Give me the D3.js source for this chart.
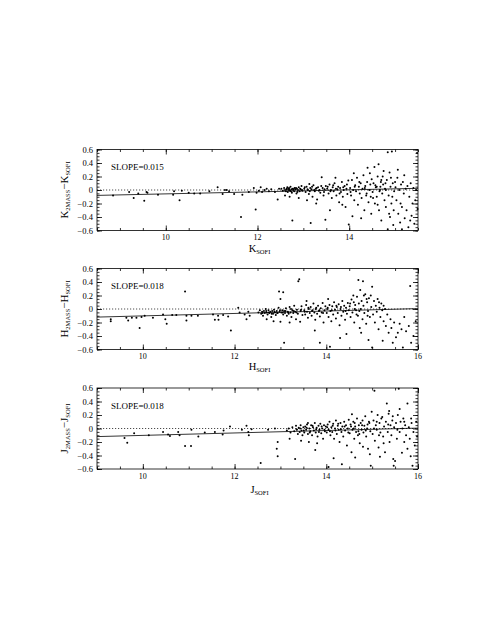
<!DOCTYPE html>
<html><head><meta charset="utf-8">
<script src="https://cdn.jsdelivr.net/npm/d3@7"></script>
<style>body{margin:0;background:#fff}svg{display:block}</style>
</head><body>
<svg id="c" width="491" height="635"></svg>
<script>
// ---------- data ----------
const bands = ["K", "H", "J"];
const slopes = [0.015, 0.018, 0.018];
const fitLeft = [-0.08, -0.12, -0.12];          // fit value at left edge of x range
const xDomains = [[8.5, 15.5], [9, 16], [9, 16]];
const xMajorTicks = [[10, 12, 14], [10, 12, 14, 16], [10, 12, 14, 16]];
const yTicks = [0.6, 0.4, 0.2, 0, -0.2, -0.4, -0.6];

const kPoints = [
[8.85,-0.08],[9.2,-0.03],[9.3,-0.12],[9.4,-0.05],[9.53,-0.16],[9.58,-0.03],[9.6,-0.04],[9.83,-0.07],
[10.16,-0.07],[10.18,-0.02],[10.3,-0.15],[10.35,-0.01],[10.5,-0.04],[10.62,-0.05],[10.75,-0.05],[10.95,-0.02],
[11.13,0.04],[11.24,-0.06],[11.29,0.0],[11.33,0.0],[11.38,-0.02],[11.49,-0.06],[11.64,-0.40],[11.67,-0.07],
[11.81,-0.03],[11.92,0.03],[11.96,-0.29],[11.98,-0.04],[12.03,-0.01],[12.07,0.04],[12.1,-0.03],[12.2,0.02],
[12.15,0.0],[12.25,-0.02],[12.3,0.01],[12.38,-0.03],[12.44,-0.14],[12.47,0.02],
[12.52,0.02],[12.55,-0.01],[12.58,0.03],[12.6,0.0],[12.62,-0.02],[12.63,0.01],[12.65,0.04],[12.66,-0.03],[12.68,0.02],[12.7,0.0],[12.71,-0.01],[12.72,0.05],[12.74,0.01],[12.75,-0.04],[12.77,0.02],[12.78,0.0],[12.8,-0.02],[12.81,0.03],[12.83,0.01],[12.85,-0.05],[12.86,0.02],[12.88,0.0],[12.9,0.04],[12.92,-0.02],[12.94,0.01],[12.96,0.06],[12.98,-0.01],[12.6,-0.08],[12.7,-0.1],[12.76,-0.45],[12.9,-0.12],
[13.02,0.02],[13.05,-0.03],[13.07,0.05],[13.1,0.0],[13.12,-0.06],[13.15,0.03],[13.16,-0.49],[13.18,0.01],[13.2,-0.1],[13.22,0.07],[13.25,-0.02],[13.27,0.02],[13.3,-0.14],[13.32,0.04],[13.35,0.0],[13.37,-0.04],[13.4,0.19],[13.42,0.03],[13.44,-0.08],[13.46,0.01],[13.48,-0.44],[13.49,0.06],[13.08,-0.15],[13.28,-0.2],[13.13,0.09],
[13.52,0.02],[13.55,-0.05],[13.57,0.08],[13.6,0.0],[13.62,-0.12],[13.64,0.04],[13.66,-0.02],[13.68,0.1],[13.7,0.18],[13.72,-0.08],[13.74,0.01],[13.76,0.05],[13.78,-0.18],[13.8,0.03],[13.82,-0.03],[13.84,0.12],[13.86,-0.1],[13.88,0.0],[13.9,0.06],[13.92,-0.25],[13.94,0.02],[13.96,-0.06],[13.98,0.14],[13.99,-0.51],[13.58,-0.3],[13.85,-0.22],
[14.02,0.03],[14.04,-0.08],[14.06,0.15],[14.07,-0.39],[14.09,0.0],[14.11,-0.15],[14.13,0.07],[14.15,-0.02],[14.17,0.18],[14.19,-0.22],[14.21,0.05],[14.23,-0.05],[14.25,0.1],[14.27,-0.12],[14.29,0.02],[14.31,0.22],[14.33,-0.3],[14.35,0.06],[14.37,-0.08],[14.39,0.12],[14.4,0.33],[14.42,-0.18],[14.44,0.0],[14.46,0.08],[14.48,-0.35],[14.49,0.16],[14.1,0.25],[14.26,-0.42],[14.38,-0.05],[14.45,0.25],
[14.51,-0.03],[14.53,0.1],[14.55,0.34],[14.56,-0.2],[14.58,0.04],[14.6,-0.1],[14.62,0.2],[14.64,0.38],[14.65,-0.3],[14.67,0.0],[14.69,0.12],[14.7,-0.45],[14.72,-0.05],[14.74,0.08],[14.75,0.28],[14.77,-0.15],[14.78,0.02],[14.8,-0.25],[14.82,0.15],[14.84,0.56],[14.84,-0.58],[14.86,-0.08],[14.88,0.26],[14.89,-0.4],[14.9,0.05],[14.92,-0.2],[14.93,0.57],[14.95,0.1],[14.96,-0.52],[14.98,-0.02],[14.52,-0.12],[14.6,0.05],[14.66,-0.02],[14.73,0.2],[14.8,0.0],[14.87,-0.35],[14.91,0.18],[14.97,-0.3],[14.62,-0.22],[14.7,0.15],
[15.01,0.04],[15.03,-0.15],[15.05,0.18],[15.07,-0.35],[15.09,0.0],[15.11,-0.48],[15.13,0.08],[15.15,-0.25],[15.17,0.12],[15.19,-0.05],[15.21,-0.42],[15.23,0.02],[15.25,-0.3],[15.27,0.06],[15.29,-0.55],[15.31,-0.1],[15.34,0.1],[15.36,-0.38],[15.38,-0.2],[15.4,0.03],[15.42,-0.5],[15.44,-0.15],[15.46,0.0],[15.48,0.55],[15.49,-0.28],[15.06,0.3],[15.2,0.22],[15.12,-0.2],[15.33,-0.45],[15.15,-0.58],
[12.64,0.02],[12.67,0.0],[12.69,0.03],[12.73,-0.02],[12.79,0.01],[12.84,0.03],[12.87,-0.03],[12.93,0.02],[12.97,0.0],[13.03,0.04],[13.09,0.01],[13.14,-0.02],[13.19,0.05],[13.24,0.0],[13.29,0.03],[13.34,-0.01],[13.39,0.06],[13.45,-0.03],[13.53,0.05],[13.59,-0.02],[13.65,0.07],[13.71,0.02],[13.79,-0.05],[13.87,0.04],[13.95,0.08],[14.03,-0.03],[14.12,0.05],[14.22,0.12],[14.34,0.03],[14.47,-0.1],[14.57,0.07],[14.68,0.05],[14.79,0.1],[14.94,-0.1],[15.0,0.12]
];

const hPoints = [
[9.3,-0.15],[9.3,-0.18],[9.64,-0.13],[9.68,-0.17],[9.76,-0.13],[9.86,-0.13],[9.93,-0.28],[9.97,-0.12],
[10.04,-0.1],[10.22,-0.13],[10.44,-0.08],[10.49,-0.15],[10.52,-0.22],[10.64,-0.09],[10.73,-0.09],[10.92,0.26],
[10.95,-0.1],[10.95,-0.17],[11.06,-0.1],[11.2,-0.1],[11.53,-0.08],[11.57,-0.16],[11.64,-0.1],[11.65,-0.16],
[11.75,-0.09],[11.86,-0.11],[11.92,-0.32],[12.08,0.02],[12.11,-0.05],[12.22,-0.08],[12.26,-0.15],[12.3,-0.04],[12.33,-0.1],
[12.52,-0.05],[12.55,-0.02],[12.58,-0.07],[12.6,-0.04],[12.62,-0.1],[12.64,-0.03],[12.66,-0.06],[12.68,0.0],[12.7,-0.05],[12.72,-0.08],[12.74,-0.02],[12.76,-0.06],[12.78,-0.04],[12.8,-0.12],[12.82,-0.03],[12.84,-0.07],[12.86,-0.01],[12.88,-0.05],[12.9,-0.09],[12.92,-0.03],[12.94,-0.06],[12.96,0.02],[12.98,-0.04],[12.7,-0.15],[12.85,-0.18],
[13.0,0.15],[12.97,0.26],[13.06,0.25],[13.02,-0.05],[13.04,-0.02],[13.06,-0.08],[13.08,-0.5],[13.08,-0.03],[13.1,-0.06],[13.12,0.01],[13.14,-0.1],[13.16,-0.04],[13.18,-0.07],[13.2,0.03],[13.22,-0.05],[13.24,-0.12],[13.26,-0.02],[13.28,-0.06],[13.3,0.05],[13.32,-0.04],[13.34,-0.15],[13.36,-0.01],[13.38,-0.07],[13.39,0.41],[13.41,0.44],[13.43,-0.19],[13.44,-0.03],[13.46,0.04],[13.48,-0.09],[13.0,-0.19],[13.2,-0.2],
[13.52,-0.02],[13.54,-0.08],[13.56,0.06],[13.57,0.12],[13.58,-0.04],[13.6,-0.13],[13.62,0.0],[13.64,-0.06],[13.66,0.03],[13.68,-0.1],[13.7,-0.02],[13.72,0.08],[13.74,-0.05],[13.75,-0.32],[13.76,-0.16],[13.78,0.02],[13.8,-0.07],[13.82,0.05],[13.84,-0.03],[13.86,-0.5],[13.86,-0.11],[13.88,0.01],[13.9,-0.05],[13.92,0.09],[13.94,-0.2],[13.96,-0.02],[13.98,0.04],
[14.01,-0.06],[14.03,0.02],[14.04,0.15],[14.05,-0.12],[14.07,0.06],[14.08,-0.56],[14.09,-0.03],[14.11,-0.18],[14.13,0.04],[14.15,-0.08],[14.17,0.1],[14.19,-0.01],[14.21,-0.14],[14.23,0.03],[14.25,-0.06],[14.27,0.07],[14.29,-0.24],[14.3,-0.43],[14.31,0.0],[14.33,-0.1],[14.35,0.12],[14.37,-0.04],[14.39,0.05],[14.41,-0.16],[14.43,0.02],[14.44,-0.37],[14.45,-0.07],[14.47,0.09],[14.49,-0.02],
[14.51,0.04],[14.53,-0.12],[14.55,0.14],[14.57,-0.05],[14.59,0.2],[14.61,-0.2],[14.63,0.06],[14.65,-0.02],[14.67,0.18],[14.7,0.43],[14.69,-0.1],[14.71,0.08],[14.73,-0.28],[14.74,0.28],[14.75,0.0],[14.77,0.12],[14.79,-0.15],[14.8,0.41],[14.81,0.05],[14.83,-0.06],[14.85,0.22],[14.87,-0.22],[14.89,0.1],[14.91,-0.03],[14.92,-0.46],[14.93,0.16],[14.95,-0.12],[14.97,0.2],[14.98,0.03],[15.0,0.33],[15.0,-0.57],[14.6,0.1],[14.76,-0.35],[14.88,0.15],[14.66,-0.08],
[15.02,-0.08],[15.04,0.12],[15.06,-0.2],[15.08,0.05],[15.1,-0.04],[15.12,0.15],[15.14,-0.3],[15.16,0.02],[15.18,-0.12],[15.2,0.08],[15.22,-0.02],[15.23,-0.47],[15.25,-0.18],[15.28,0.0],[15.3,-0.25],[15.33,-0.08],[15.36,-0.35],[15.4,-0.15],[15.45,-0.5],[15.42,-0.28],[15.48,-0.2],
[15.52,-0.42],[15.56,-0.35],[15.6,-0.22],[15.64,-0.3],[15.67,-0.57],[15.7,-0.12],[15.74,-0.33],[15.8,-0.25],[15.83,0.34],[15.85,-0.5],[15.9,-0.4],[15.95,-0.18],
[12.61,-0.06],[12.69,-0.03],[12.75,-0.05],[12.81,-0.07],[12.87,-0.04],[12.93,-0.06],[12.99,-0.02],[13.05,-0.05],[13.11,-0.03],[13.17,-0.05],[13.23,0.0],[13.29,-0.03],[13.35,-0.05],[13.45,-0.01],[13.53,-0.04],[13.61,0.02],[13.69,-0.03],[13.77,0.0],[13.85,-0.02],[13.93,-0.06],[14.02,0.0],[14.12,-0.02],[14.22,0.05],[14.32,0.03],[14.42,-0.03],[14.52,0.08],[14.62,0.0],[14.72,-0.03],[14.82,0.2],[14.9,-0.1],[15.15,0.1],[15.25,0.05]
];

const jPoints = [
[9.6,-0.14],[9.66,-0.21],[9.81,-0.07],[10.13,-0.1],[10.44,-0.05],[10.55,-0.09],[10.59,-0.11],[10.77,-0.05],
[10.8,-0.1],[10.92,-0.26],[11.05,-0.26],[11.06,-0.02],[11.21,-0.12],[11.35,-0.06],[11.57,-0.05],[11.76,-0.03],
[11.74,-0.09],[11.9,0.03],[12.16,-0.02],[12.26,0.04],[12.3,-0.05],[12.31,-0.1],[12.37,-0.01],[12.57,-0.51],
[12.73,-0.02],[12.88,0.0],[12.92,-0.3],[12.94,-0.2],[12.94,-0.41],
[13.14,-0.03],[13.18,0.0],[13.22,-0.06],[13.26,0.02],[13.3,-0.04],[13.32,-0.45],[13.34,0.04],[13.36,-0.02],[13.38,-0.08],[13.4,0.01],[13.42,-0.05],[13.44,0.05],[13.46,-0.03],[13.48,-0.1],[13.2,-0.15],[13.45,-0.18],
[13.5,0.02],[13.52,-0.06],[13.54,0.03],[13.56,-0.02],[13.58,0.06],[13.6,-0.08],[13.62,-0.2],[13.63,0.0],[13.65,-0.04],[13.67,0.05],[13.69,-0.1],[13.71,0.02],[13.73,-0.03],[13.75,0.08],[13.76,-0.32],[13.77,-0.06],[13.79,0.01],[13.81,-0.12],[13.83,0.04],[13.85,-0.02],[13.87,0.07],[13.89,-0.07],[13.91,0.0],[13.93,-0.15],[13.95,0.05],[13.97,-0.04],[13.99,0.03],[13.6,0.08],[13.8,-0.22],
[14.01,-0.06],[14.03,0.06],[14.05,-0.57],[14.05,-0.02],[14.07,0.1],[14.09,-0.1],[14.11,0.02],[14.13,-0.05],[14.15,0.07],[14.16,-0.44],[14.17,-0.15],[14.19,0.0],[14.21,0.12],[14.23,-0.08],[14.25,0.04],[14.27,-0.02],[14.29,-0.2],[14.31,0.08],[14.33,-0.05],[14.34,-0.53],[14.35,0.03],[14.37,-0.12],[14.39,0.1],[14.41,-0.03],[14.43,0.05],[14.45,-0.25],[14.47,0.0],[14.49,0.13],
[14.51,-0.07],[14.53,0.06],[14.55,-0.35],[14.56,0.21],[14.57,-0.02],[14.59,0.1],[14.61,-0.15],[14.63,-0.43],[14.63,0.03],[14.65,-0.05],[14.67,0.15],[14.69,-0.1],[14.71,0.05],[14.73,-0.22],[14.75,0.08],[14.77,-0.02],[14.79,0.12],[14.8,-0.27],[14.81,-0.06],[14.83,0.04],[14.85,0.18],[14.87,-0.12],[14.89,0.0],[14.91,-0.3],[14.93,0.1],[14.95,-0.38],[14.96,-0.04],[14.97,-0.55],[14.99,0.25],[14.6,0.0],[14.72,-0.08],[14.9,0.06],
[15.01,-0.08],[15.03,0.12],[15.05,0.56],[15.06,-0.18],[15.08,0.05],[15.1,-0.02],[15.12,0.2],[15.14,-0.28],[15.16,0.08],[15.17,-0.42],[15.18,-0.06],[15.2,0.15],[15.22,0.17],[15.24,-0.12],[15.26,0.03],[15.28,-0.35],[15.3,0.1],[15.32,0.37],[15.34,-0.05],[15.36,0.22],[15.37,0.26],[15.38,-0.2],[15.4,0.05],[15.42,-0.1],[15.44,0.12],[15.46,-0.45],[15.47,-0.55],[15.48,0.02],[15.1,0.1],[15.25,-0.22],[15.45,0.18],
[15.5,-0.48],[15.52,0.08],[15.54,-0.15],[15.56,0.2],[15.58,0.59],[15.6,0.29],[15.6,-0.05],[15.62,0.1],[15.65,-0.36],[15.66,0.0],[15.68,0.15],[15.7,-0.2],[15.72,0.05],[15.74,-0.1],[15.77,0.37],[15.77,-0.3],[15.8,0.02],[15.82,-0.15],[15.84,-0.41],[15.86,0.08],[15.88,-0.55],[15.9,-0.05],[15.93,-0.25],[15.96,0.1],[15.98,-0.12],
[13.35,-0.01],[13.43,0.0],[13.51,-0.03],[13.57,0.01],[13.64,-0.06],[13.7,0.04],[13.78,-0.01],[13.84,-0.05],[13.9,0.03],[13.96,-0.02],[14.02,0.02],[14.08,-0.04],[14.14,0.04],[14.2,-0.03],[14.26,0.07],[14.32,-0.01],[14.4,0.03],[14.48,-0.06],[14.54,0.03],[14.62,0.08],[14.7,-0.04],[14.78,0.05],[14.86,-0.03],[14.94,0.08],[15.04,0.0],[15.15,-0.1],[15.35,0.06],[15.55,-0.02],[15.7,0.1],[15.85,0.15]
];
const pointSets = [kPoints, hPoints, jPoints];

// ---------- layout ----------
const L = 97, R = 418;
const panelTops = [149.5, 268.5, 388];
const panelH = 81;
const titleOffsets = [21, 20.5, 24];
const serif = "'Liberation Serif','DejaVu Serif',serif";

const svg = d3.select("#c");

bands.forEach((band, i) => {
  const top = panelTops[i], bot = top + panelH;
  const x = d3.scaleLinear().domain(xDomains[i]).range([L, R]);
  const y = d3.scaleLinear().domain([-0.6, 0.6]).range([bot, top]);
  const g = svg.append("g");

  const xMinor = d3.range(Math.ceil(xDomains[i][0]*2)/2, xDomains[i][1]+0.001, 0.5);
  const yMinor = d3.range(-0.6, 0.6001, 0.05).map(v => +v.toFixed(2));
  const axStyle = sel => { sel.select(".domain").remove(); sel.selectAll("line").attr("stroke","#000").attr("stroke-width",0.8); };

  g.append("g").attr("transform",`translate(0,${bot})`)
    .call(d3.axisBottom(x).tickValues(xMinor).tickSize(-2.5).tickFormat("")).call(axStyle);
  g.append("g").attr("transform",`translate(0,${top})`)
    .call(d3.axisTop(x).tickValues(xMinor).tickSize(-2.5).tickFormat("")).call(axStyle);
  g.append("g").attr("transform",`translate(0,${bot})`)
    .call(d3.axisBottom(x).tickValues(xMajorTicks[i]).tickSize(-5).tickFormat("")).call(axStyle);
  g.append("g").attr("transform",`translate(0,${top})`)
    .call(d3.axisTop(x).tickValues(xMajorTicks[i]).tickSize(-5).tickFormat("")).call(axStyle);
  g.append("g").attr("transform",`translate(${L},0)`)
    .call(d3.axisLeft(y).tickValues(yMinor).tickSize(-2.5).tickFormat("")).call(axStyle);
  g.append("g").attr("transform",`translate(${R},0)`)
    .call(d3.axisRight(y).tickValues(yMinor).tickSize(-2.5).tickFormat("")).call(axStyle);
  g.append("g").attr("transform",`translate(${L},0)`)
    .call(d3.axisLeft(y).tickValues(yTicks).tickSize(-5).tickFormat("")).call(axStyle);
  g.append("g").attr("transform",`translate(${R},0)`)
    .call(d3.axisRight(y).tickValues(yTicks).tickSize(-5).tickFormat("")).call(axStyle);

  // tick labels
  g.selectAll(".xl").data(xMajorTicks[i]).join("text")
    .attr("x", d => x(d)).attr("y", bot + 9.5).attr("text-anchor","middle")
    .attr("font-family", serif).attr("font-size", 8).text(d => d);
  g.selectAll(".yl").data(yTicks).join("text")
    .attr("x", L - 4).attr("y", d => y(d) + 3).attr("text-anchor","end")
    .attr("font-family", serif).attr("font-size", 8.5)
    .text(d => d === 0 ? "0" : (d < 0 ? "\u2212" + Math.abs(d) : String(d)));

  // frame
  g.append("rect").attr("x", L).attr("y", top).attr("width", R - L).attr("height", panelH)
    .attr("fill","none").attr("stroke","#000").attr("stroke-width",0.8);

  // zero line (dotted)
  g.append("line").attr("x1", L).attr("x2", R).attr("y1", y(0)).attr("y2", y(0))
    .attr("stroke","#000").attr("stroke-width",0.7).attr("stroke-dasharray","1.2,1.8");

  // fit line
  const x0 = xDomains[i][0], x1 = xDomains[i][1];
  const f = v => fitLeft[i] + slopes[i] * (v - x0);
  g.append("line").attr("x1", x(x0)).attr("x2", x(x1)).attr("y1", y(f(x0))).attr("y2", y(f(x1)))
    .attr("stroke","#000").attr("stroke-width",0.8);

  // points
  g.selectAll(".pt").data(pointSets[i]).join("circle")
    .attr("cx", d => x(d[0])).attr("cy", d => y(d[1])).attr("r", 1).attr("fill","#000");

  // slope text
  g.append("text").attr("x", 111).attr("y", top + 20.5)
    .attr("font-family", serif).attr("font-size", 9)
    .text("SLOPE=" + slopes[i].toFixed(3));

  // x title
  const xt = g.append("text").attr("x", (L + R) / 2 + 2).attr("y", bot + titleOffsets[i])
    .attr("text-anchor","middle").attr("font-family", serif).attr("font-size", 10.5);
  xt.append("tspan").text(band);
  xt.append("tspan").attr("font-size", 6.5).attr("dy", 2).text("SOFI");

  // y title (rotated)
  const yt = g.append("text")
    .attr("transform", `translate(68,${(top + bot) / 2}) rotate(-90)`)
    .attr("text-anchor","middle").attr("font-family", serif).attr("font-size", 11);
  yt.append("tspan").text(band);
  yt.append("tspan").attr("font-size", 6.5).attr("dy", 2).text("2MASS");
  yt.append("tspan").attr("dy", -2).text("\u2212" + band);
  yt.append("tspan").attr("font-size", 6.5).attr("dy", 2).text("SOFI");
});
</script>
</body></html>
